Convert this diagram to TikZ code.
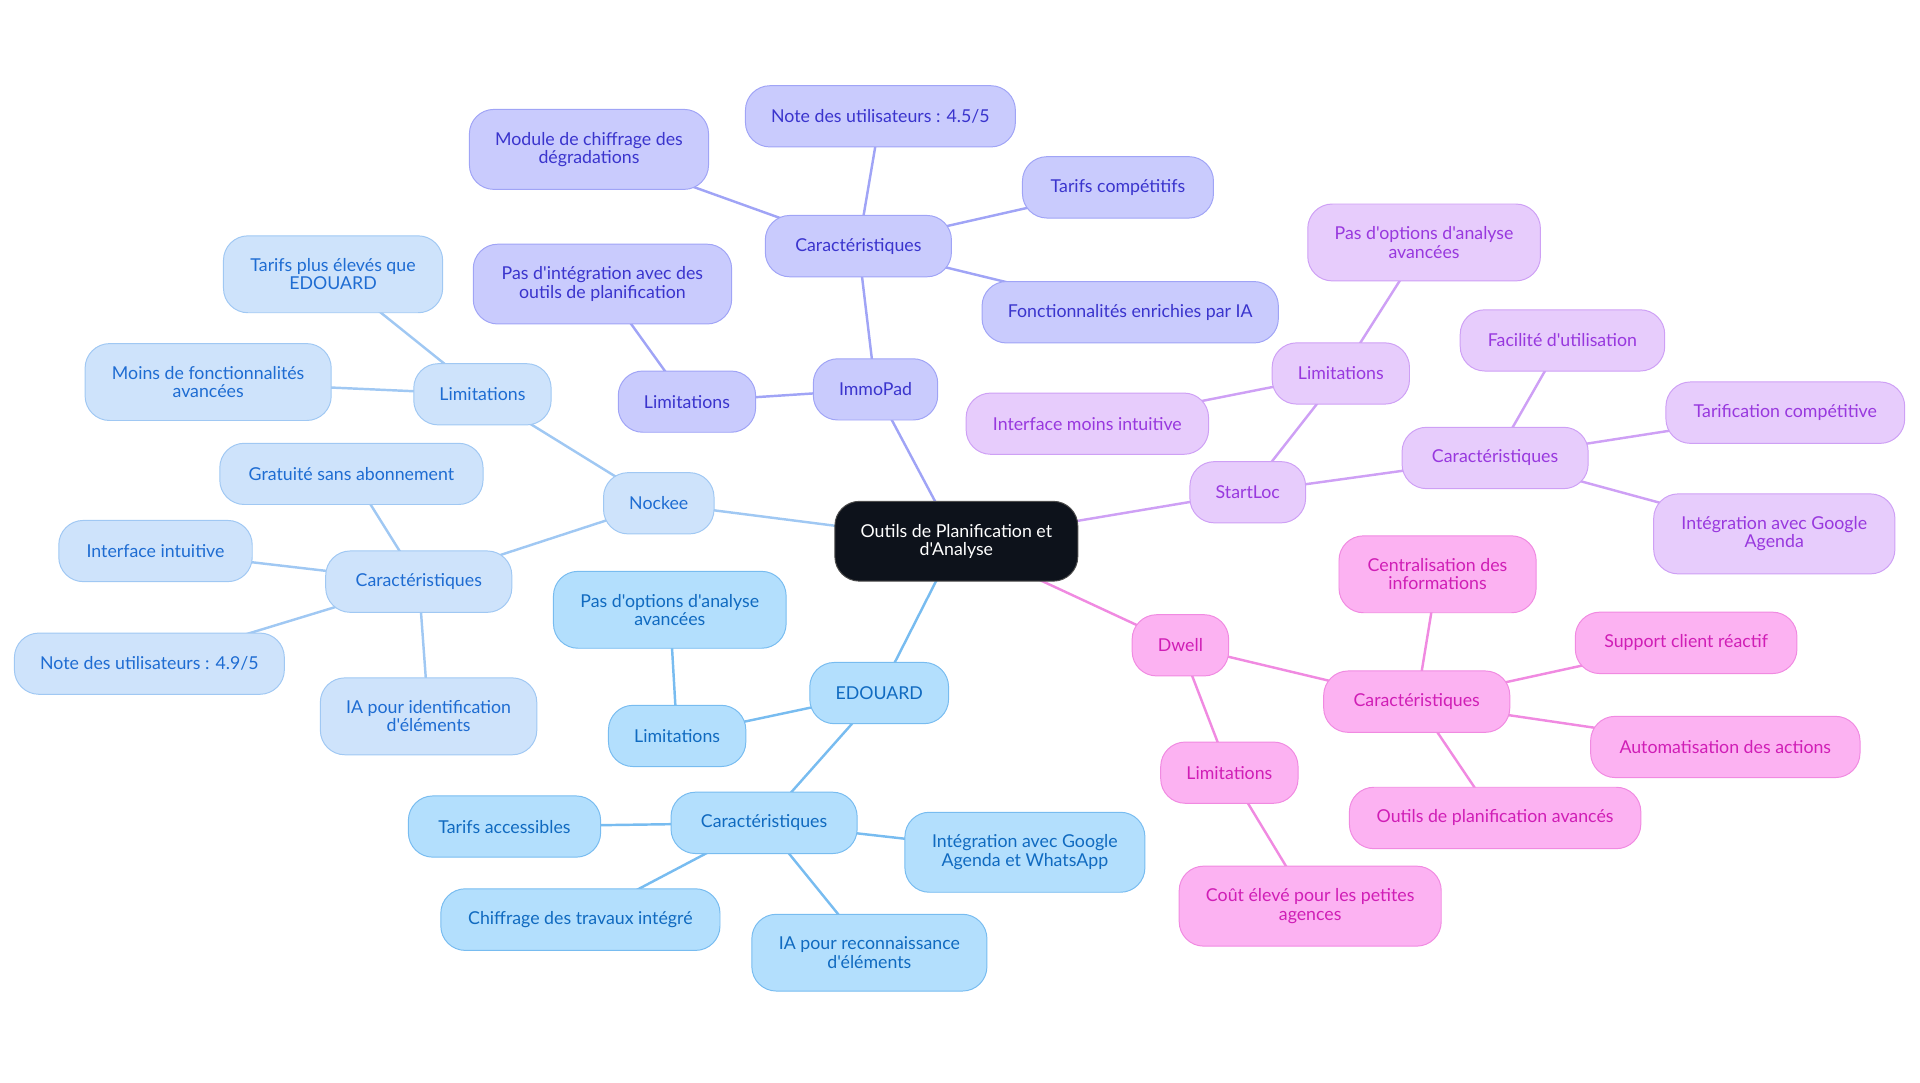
\documentclass[tikz,border=0pt]{standalone}
\usepackage{fontspec}
\setmainfont{Lato}[Ligatures=TeXOff]
\usepackage{tikz}
\usetikzlibrary{backgrounds}
\definecolor{rootfill}{RGB}{13,18,27}
\definecolor{immofill}{RGB}{201,203,253}
\definecolor{immoline}{RGB}{160,164,246}
\definecolor{immotext}{RGB}{58,52,205}
\definecolor{nockfill}{RGB}{206,227,251}
\definecolor{nockline}{RGB}{160,200,243}
\definecolor{nocktext}{RGB}{30,108,210}
\definecolor{edoufill}{RGB}{179,223,253}
\definecolor{edouline}{RGB}{120,188,240}
\definecolor{edoutext}{RGB}{16,106,192}
\definecolor{startfill}{RGB}{231,204,252}
\definecolor{startline}{RGB}{206,160,245}
\definecolor{starttext}{RGB}{152,56,222}
\definecolor{dwellfill}{RGB}{252,178,242}
\definecolor{dwellline}{RGB}{240,138,225}
\definecolor{dwelltext}{RGB}{208,30,182}
\tikzstyle{box}=[rectangle, rounded corners=20pt, align=center, inner xsep=21pt, inner ysep=18.5pt, minimum height=50pt, font=\fontsize{14.5pt}{15pt}\selectfont, line width=0.8pt]
\tikzstyle{root}=[box, fill=rootfill, draw=gray!60!black, text=white]
\tikzstyle{boximmo}=[box, fill=immofill, draw=immoline, text=immotext]
\tikzstyle{boxnock}=[box, fill=nockfill, draw=nockline, text=nocktext]
\tikzstyle{boxedou}=[box, fill=edoufill, draw=edouline, text=edoutext]
\tikzstyle{boxstart}=[box, fill=startfill, draw=startline, text=starttext]
\tikzstyle{boxdwell}=[box, fill=dwellfill, draw=dwellline, text=dwelltext]
\tikzstyle{lineimmo}=[draw=immoline, line width=2pt]
\tikzstyle{linenock}=[draw=nockline, line width=2pt]
\tikzstyle{lineedou}=[draw=edouline, line width=2pt]
\tikzstyle{linestart}=[draw=startline, line width=2pt]
\tikzstyle{linedwell}=[draw=dwellline, line width=2pt]

\begin{document}
\begin{tikzpicture}[x=1pt, y=-1pt]
	\useasboundingbox (0,0) rectangle (1568,884);
	\begin{scope}
		\node (root) at (781, 442)[root, minimum width=198pt, minimum height=65pt] {Outils de Planification et\\d'Analyse};
		% ImmoPad
		\node (immo) at (715, 318)[boximmo] {ImmoPad};
		\node (immolim) at (561, 328)[boximmo] {Limitations};
		\node (immolim1) at (492, 232)[boximmo, minimum width=211pt] {Pas d'intégration avec des\\outils de planification};
		\node (immocar) at (701, 201)[boximmo, minimum width=152pt] {Caractéristiques};
		\node (immocar1) at (481, 122)[boximmo, minimum width=195pt] {Module de chiffrage des\\dégradations};
		\node (immocar2) at (719, 95)[boximmo, minimum width=218pt] {Note des utilisateurs : 4.5/5};
		\node (immocar3) at (913, 153)[boximmo, minimum width=156pt] {Tarifs compétitifs};
		\node (immocar4) at (923, 255)[boximmo, minimum width=242pt] {Fonctionnalités enrichies par IA};
		% Nockee
		\node (nock) at (538, 411)[boxnock] {Nockee};
		\node (nocklim) at (394, 322)[boxnock] {Limitations};
		\node (nocklim1) at (272, 224)[boxnock, minimum width=179pt] {Tarifs plus élevés que\\EDOUARD};
		\node (nocklim2) at (170, 312)[boxnock, minimum width=201pt] {Moins de fonctionnalités\\avancées};
		\node (nockcar) at (342, 475)[boxnock, minimum width=152pt] {Caractéristiques};
		\node (nockcar1) at (287, 387)[boxnock, minimum width=215pt] {Gratuité sans abonnement};
		\node (nockcar2) at (127, 450)[boxnock, minimum width=158pt] {Interface intuitive};
		\node (nockcar3) at (122, 542)[boxnock, minimum width=220pt] {Note des utilisateurs : 4.9/5};
		\node (nockcar4) at (350, 585)[boxnock, minimum width=176pt] {IA pour identification\\d'éléments};
		% EDOUARD
		\node (edou) at (718, 566)[boxedou] {EDOUARD};
		\node (edoulim) at (553, 601)[boxedou] {Limitations};
		\node (edoulim1) at (547, 498)[boxedou, minimum width=190pt] {Pas d'options d'analyse\\avancées};
		\node (edoucar) at (624, 672)[boxedou, minimum width=152pt] {Caractéristiques};
		\node (edoucar1) at (412, 675)[boxedou, minimum width=157pt] {Tarifs accessibles};
		\node (edoucar2) at (474, 751)[boxedou, minimum width=228pt] {Chiffrage des travaux intégré};
		\node (edoucar3) at (710, 778)[boxedou, minimum width=192pt] {IA pour reconnaissance\\d'éléments};
		\node (edoucar4) at (837, 696)[boxedou, minimum width=196pt] {Intégration avec Google\\Agenda et WhatsApp};
		% StartLoc
		\node (start) at (1019, 402)[boxstart] {StartLoc};
		\node (startlim) at (1095, 305)[boxstart] {Limitations};
		\node (startlim1) at (1163, 198)[boxstart, minimum width=190pt] {Pas d'options d'analyse\\avancées};
		\node (startlim2) at (888, 346)[boxstart, minimum width=198pt] {Interface moins intuitive};
		\node (startcar) at (1221, 374)[boxstart, minimum width=152pt] {Caractéristiques};
		\node (startcar1) at (1276, 278)[boxstart, minimum width=167pt] {Facilité d'utilisation};
		\node (startcar2) at (1458, 337)[boxstart, minimum width=195pt] {Tarification compétitive};
		\node (startcar3) at (1449, 436)[boxstart, minimum width=197pt] {Intégration avec Google\\Agenda};
		% Dwell
		\node (dwell) at (964, 527)[boxdwell] {Dwell};
		\node (dwelllim) at (1004, 631)[boxdwell] {Limitations};
		\node (dwelllim1) at (1070, 740)[boxdwell, minimum width=214pt] {Coût élevé pour les petites\\agences};
		\node (dwellcar) at (1157, 573)[boxdwell, minimum width=152pt] {Caractéristiques};
		\node (dwellcar1) at (1174, 469)[boxdwell, minimum width=161pt] {Centralisation des\\informations};
		\node (dwellcar2) at (1377, 525)[boxdwell, minimum width=181pt] {Support client réactif};
		\node (dwellcar3) at (1409, 610)[boxdwell, minimum width=220pt] {Automatisation des actions};
		\node (dwellcar4) at (1221, 668)[boxdwell, minimum width=238pt] {Outils de planification avancés};
	\end{scope}
	\begin{scope}[on background layer]
		\path [lineimmo] (root.center) edge (immo.center);
		\path [lineimmo] (immo.center) edge (immolim.center);
		\path [lineimmo] (immolim.center) edge (immolim1.center);
		\path [lineimmo] (immo.center) edge (immocar.center);
		\path [lineimmo] (immocar.center) edge (immocar1.center);
		\path [lineimmo] (immocar.center) edge (immocar2.center);
		\path [lineimmo] (immocar.center) edge (immocar3.center);
		\path [lineimmo] (immocar.center) edge (immocar4.center);
		\path [linenock] (root.center) edge (nock.center);
		\path [linenock] (nock.center) edge (nocklim.center);
		\path [linenock] (nocklim.center) edge (nocklim1.center);
		\path [linenock] (nocklim.center) edge (nocklim2.center);
		\path [linenock] (nock.center) edge (nockcar.center);
		\path [linenock] (nockcar.center) edge (nockcar1.center);
		\path [linenock] (nockcar.center) edge (nockcar2.center);
		\path [linenock] (nockcar.center) edge (nockcar3.center);
		\path [linenock] (nockcar.center) edge (nockcar4.center);
		\path [lineedou] (root.center) edge (edou.center);
		\path [lineedou] (edou.center) edge (edoulim.center);
		\path [lineedou] (edoulim.center) edge (edoulim1.center);
		\path [lineedou] (edou.center) edge (edoucar.center);
		\path [lineedou] (edoucar.center) edge (edoucar1.center);
		\path [lineedou] (edoucar.center) edge (edoucar2.center);
		\path [lineedou] (edoucar.center) edge (edoucar3.center);
		\path [lineedou] (edoucar.center) edge (edoucar4.center);
		\path [linestart] (root.center) edge (start.center);
		\path [linestart] (start.center) edge (startlim.center);
		\path [linestart] (startlim.center) edge (startlim1.center);
		\path [linestart] (startlim.center) edge (startlim2.center);
		\path [linestart] (start.center) edge (startcar.center);
		\path [linestart] (startcar.center) edge (startcar1.center);
		\path [linestart] (startcar.center) edge (startcar2.center);
		\path [linestart] (startcar.center) edge (startcar3.center);
		\path [linedwell] (root.center) edge (dwell.center);
		\path [linedwell] (dwell.center) edge (dwelllim.center);
		\path [linedwell] (dwelllim.center) edge (dwelllim1.center);
		\path [linedwell] (dwell.center) edge (dwellcar.center);
		\path [linedwell] (dwellcar.center) edge (dwellcar1.center);
		\path [linedwell] (dwellcar.center) edge (dwellcar2.center);
		\path [linedwell] (dwellcar.center) edge (dwellcar3.center);
		\path [linedwell] (dwellcar.center) edge (dwellcar4.center);
	\end{scope}
\end{tikzpicture}
\end{document}
